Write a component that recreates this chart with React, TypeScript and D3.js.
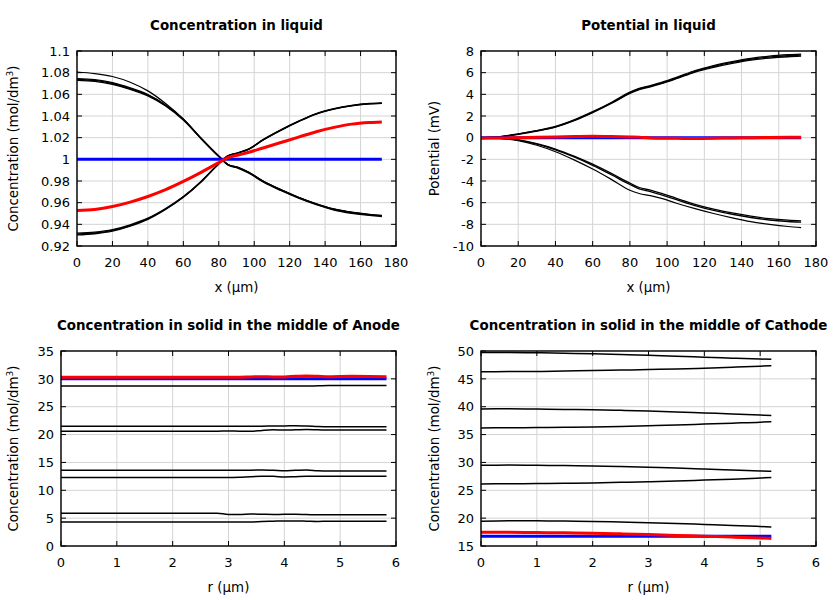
import React from "react";
import * as d3 from "d3";

// ---------- Panel 1: Concentration in liquid ----------
const xLiq = [0, 10, 20, 30, 40, 50, 60, 70, 80, 85, 91, 97, 105, 115, 125, 135, 145, 155, 165, 172];
const liqDescThin = [1.0806, 1.0792, 1.0765, 1.0712, 1.0632, 1.0515, 1.0372, 1.0195, 1.003, 0.9955, 0.9925, 0.988, 0.98, 0.972, 0.965, 0.959, 0.954, 0.951, 0.949, 0.948];
const liqDescA = [1.0745, 1.0736, 1.0708, 1.066, 1.0598, 1.0502, 1.037, 1.0195, 1.003, 0.9955, 0.9925, 0.988, 0.98, 0.972, 0.965, 0.959, 0.9542, 0.9512, 0.9492, 0.9482];
const liqDescB = [1.0737, 1.0728, 1.07, 1.0653, 1.0592, 1.0498, 1.0367, 1.0193, 1.0028, 0.9952, 0.9921, 0.9876, 0.9796, 0.9716, 0.9646, 0.9586, 0.9537, 0.9507, 0.9487, 0.9477];
const liqDescC = [1.0729, 1.072, 1.0692, 1.0646, 1.0586, 1.0493, 1.0363, 1.019, 1.0025, 0.9948, 0.9917, 0.9872, 0.9792, 0.9712, 0.9642, 0.9582, 0.9532, 0.9502, 0.9482, 0.9472];
const liqAscA = [0.9302, 0.9313, 0.9337, 0.9383, 0.9446, 0.9537, 0.9649, 0.979, 0.9957, 1.0028, 1.0058, 1.0093, 1.0178, 1.0268, 1.0348, 1.0418, 1.0463, 1.0493, 1.0511, 1.0516];
const liqAscB = [0.931, 0.932, 0.9344, 0.9389, 0.9451, 0.9541, 0.9652, 0.9793, 0.9959, 1.003, 1.006, 1.0095, 1.018, 1.027, 1.035, 1.042, 1.0465, 1.0495, 1.0513, 1.0519];
const liqAscC = [0.9318, 0.9328, 0.9351, 0.9396, 0.9457, 0.9546, 0.9656, 0.9796, 0.9961, 1.0032, 1.0062, 1.0097, 1.0182, 1.0272, 1.0352, 1.0423, 1.0468, 1.0498, 1.0516, 1.0522];
const liqRed = [0.9527, 0.9537, 0.9564, 0.9605, 0.9657, 0.972, 0.9796, 0.988, 0.997, 1.0015, 1.004, 1.0065, 1.0105, 1.0155, 1.0205, 1.0255, 1.0295, 1.0325, 1.034, 1.0345];
const liqBlue = [1, 1, 1, 1, 1, 1, 1, 1, 1, 1, 1, 1, 1, 1, 1, 1, 1, 1, 1, 1];

// ---------- Panel 2: Potential in liquid ----------
const potUpA = [0, 0.09, 0.35, 0.66, 1.04, 1.64, 2.4, 3.25, 4.2, 4.56, 4.81, 5.1, 5.56, 6.2, 6.66, 7.02, 7.32, 7.53, 7.66, 7.72];
const potUpB = [0, 0.08, 0.33, 0.64, 1.0, 1.6, 2.35, 3.2, 4.14, 4.5, 4.75, 5.04, 5.5, 6.13, 6.58, 6.94, 7.24, 7.44, 7.56, 7.62];
const potUpC = [0, 0.07, 0.31, 0.61, 0.97, 1.56, 2.3, 3.15, 4.08, 4.44, 4.69, 4.98, 5.44, 6.06, 6.5, 6.86, 7.16, 7.35, 7.47, 7.52];
const potLowA = [0, -0.05, -0.2, -0.55, -1.05, -1.7, -2.45, -3.3, -4.2, -4.6, -4.85, -5.15, -5.6, -6.15, -6.6, -6.95, -7.25, -7.48, -7.62, -7.68];
const potLowB = [0, -0.06, -0.23, -0.6, -1.12, -1.78, -2.55, -3.42, -4.32, -4.72, -4.97, -5.27, -5.72, -6.27, -6.72, -7.07, -7.37, -7.6, -7.74, -7.8];
const potLowThin = [0, -0.07, -0.28, -0.7, -1.3, -2.05, -2.9, -3.85, -4.85, -5.15, -5.35, -5.6, -6.05, -6.55, -7.0, -7.4, -7.75, -8.0, -8.2, -8.3];
const potRed = [-0.05, -0.03, 0.0, 0.03, 0.06, 0.1, 0.13, 0.1, 0.07, 0.05, -0.02, -0.05, -0.06, -0.08, -0.06, -0.02, 0.0, 0.02, 0.03, 0.03];
const potBlue = [0, 0, 0, 0, 0, 0, 0, 0, 0, 0, 0, 0, 0, 0, 0, 0, 0, 0, 0, 0];

// ---------- Panel 3: Anode solid ----------
const rAnode = [0, 1, 2, 2.8, 3.0, 3.2, 3.4, 3.6, 3.8, 4.0, 4.2, 4.4, 4.6, 4.8, 5.2, 5.83];
const an1 = [28.7, 28.7, 28.7, 28.7, 28.7, 28.7, 28.7, 28.7, 28.7, 28.7, 28.7, 28.7, 28.75, 28.8, 28.8, 28.8];
const an2 = [21.5, 21.5, 21.5, 21.5, 21.5, 21.5, 21.5, 21.5, 21.55, 21.55, 21.6, 21.55, 21.45, 21.4, 21.4, 21.4];
const an3 = [20.6, 20.6, 20.6, 20.6, 20.65, 20.6, 20.6, 20.75, 20.85, 20.8, 20.85, 20.9, 20.85, 20.8, 20.8, 20.8];
const an4 = [13.6, 13.6, 13.6, 13.6, 13.6, 13.6, 13.6, 13.65, 13.6, 13.5, 13.6, 13.65, 13.5, 13.45, 13.45, 13.45];
const an5 = [12.3, 12.3, 12.3, 12.3, 12.3, 12.35, 12.45, 12.5, 12.5, 12.4, 12.45, 12.5, 12.5, 12.5, 12.5, 12.5];
const an6 = [5.9, 5.9, 5.9, 5.9, 5.65, 5.65, 5.75, 5.7, 5.65, 5.7, 5.7, 5.65, 5.6, 5.6, 5.6, 5.6];
const an7 = [4.3, 4.3, 4.3, 4.3, 4.3, 4.3, 4.3, 4.4, 4.45, 4.5, 4.5, 4.45, 4.4, 4.45, 4.45, 4.45];
const anRed = [30.3, 30.3, 30.3, 30.3, 30.3, 30.3, 30.35, 30.4, 30.35, 30.35, 30.45, 30.5, 30.45, 30.4, 30.45, 30.4];
const anBlue = [30, 30, 30, 30, 30, 30, 30, 30, 30, 30, 30, 30, 30, 30, 30, 30];

// ---------- Panel 4: Cathode solid ----------
const rCathode = [0, 0.5, 1, 1.5, 2, 2.5, 3, 3.5, 4, 4.5, 5, 5.2];
const ca1 = [49.75, 49.72, 49.68, 49.6, 49.5, 49.38, 49.22, 49.08, 48.9, 48.72, 48.55, 48.5];
const ca2 = [46.28, 46.3, 46.33, 46.4, 46.48, 46.57, 46.67, 46.78, 46.92, 47.08, 47.28, 47.38];
const ca3 = [39.6, 39.62, 39.58, 39.52, 39.45, 39.35, 39.22, 39.06, 38.88, 38.7, 38.5, 38.42];
const ca4 = [36.2, 36.22, 36.25, 36.3, 36.38, 36.46, 36.58, 36.72, 36.88, 37.05, 37.22, 37.32];
const ca5 = [29.5, 29.52, 29.48, 29.43, 29.37, 29.27, 29.13, 28.98, 28.82, 28.64, 28.47, 28.4];
const ca6 = [26.15, 26.18, 26.2, 26.25, 26.33, 26.42, 26.53, 26.67, 26.83, 27.0, 27.2, 27.28];
const ca7 = [19.45, 19.55, 19.52, 19.47, 19.4, 19.3, 19.18, 19.03, 18.87, 18.7, 18.5, 18.42];
const caRed = [17.48, 17.46, 17.42, 17.36, 17.28, 17.18, 17.05, 16.9, 16.75, 16.6, 16.43, 16.36];
const caBlue = [16.75, 16.75, 16.75, 16.75, 16.75, 16.75, 16.75, 16.75, 16.75, 16.75, 16.75, 16.75];

// ---------- Ticks ----------
const ticksX180 = [0, 20, 40, 60, 80, 100, 120, 140, 160, 180];
const ticksX6 = [0, 1, 2, 3, 4, 5, 6];
const ticksConcLiq = [0.92, 0.94, 0.96, 0.98, 1, 1.02, 1.04, 1.06, 1.08, 1.1];
const ticksPot = [-10, -8, -6, -4, -2, 0, 2, 4, 6, 8];
const ticksAnode = [0, 5, 10, 15, 20, 25, 30, 35];
const ticksCathode = [15, 20, 25, 30, 35, 40, 45, 50];

const FONT = "'DejaVu Sans', sans-serif";

type Series = { y: number[]; color: string; width: number };

type PanelProps = {
  left: number; right: number; top: number; bottom: number;
  xDomain: [number, number]; yDomain: [number, number];
  xTicks: number[]; yTicks: number[];
  xs: number[]; series: Series[];
  title: string; xLabel: string; yLabel: React.ReactNode; yLabelX: number;
  clipId: string;
};

function fmt(v: number) {
  return String(+v.toFixed(4));
}

function Panel(p: PanelProps) {
  const x = d3.scaleLinear().domain(p.xDomain).range([p.left, p.right]);
  const y = d3.scaleLinear().domain(p.yDomain).range([p.bottom, p.top]);
  const cx = (p.left + p.right) / 2;
  const cy = (p.top + p.bottom) / 2;
  const tl = 5;
  return (
    <g>
      <defs>
        <clipPath id={p.clipId}>
          <rect x={p.left} y={p.top} width={p.right - p.left} height={p.bottom - p.top} />
        </clipPath>
      </defs>
      {p.xTicks.map((t) => (
        <line key={"gx" + t} x1={x(t)} x2={x(t)} y1={p.top} y2={p.bottom} stroke="#d4d4d4" strokeWidth={1} />
      ))}
      {p.yTicks.map((t) => (
        <line key={"gy" + t} x1={p.left} x2={p.right} y1={y(t)} y2={y(t)} stroke="#d4d4d4" strokeWidth={1} />
      ))}
      {p.xTicks.map((t) => (
        <g key={"tx" + t}>
          <line x1={x(t)} x2={x(t)} y1={p.bottom} y2={p.bottom - tl} stroke="#000" strokeWidth={1} />
          <line x1={x(t)} x2={x(t)} y1={p.top} y2={p.top + tl} stroke="#000" strokeWidth={1} />
          <text x={x(t)} y={p.bottom + 21} textAnchor="middle" fontSize={13} fontFamily={FONT}>{fmt(t)}</text>
        </g>
      ))}
      {p.yTicks.map((t) => (
        <g key={"ty" + t}>
          <line x1={p.left} x2={p.left + tl} y1={y(t)} y2={y(t)} stroke="#000" strokeWidth={1} />
          <line x1={p.right} x2={p.right - tl} y1={y(t)} y2={y(t)} stroke="#000" strokeWidth={1} />
          <text x={p.left - 7} y={y(t)} dy="0.36em" textAnchor="end" fontSize={13} fontFamily={FONT}>{fmt(t)}</text>
        </g>
      ))}
      <g clipPath={`url(#${p.clipId})`}>
        {p.series.map((s, i) => {
          const line = d3
            .line<number>()
            .x((_, j) => x(p.xs[j]))
            .y((v) => y(v))
            .curve(d3.curveMonotoneX);
          return (
            <path key={i} d={line(s.y) || ""} fill="none" stroke={s.color} strokeWidth={s.width} strokeLinejoin="round" />
          );
        })}
      </g>
      <rect x={p.left} y={p.top} width={p.right - p.left} height={p.bottom - p.top} fill="none" stroke="#000" strokeWidth={1.4} />
      <text x={cx} y={p.top - 21} textAnchor="middle" fontSize={13.4} fontWeight="bold" fontFamily={FONT}>{p.title}</text>
      <text x={cx} y={p.bottom + 46} textAnchor="middle" fontSize={13.4} fontFamily={FONT}>{p.xLabel}</text>
      <text transform={`translate(${p.yLabelX},${cy}) rotate(-90)`} textAnchor="middle" fontSize={13.4} fontFamily={FONT}>{p.yLabel}</text>
    </g>
  );
}

const concLabel = (
  <>
    Concentration (mol/dm<tspan baselineShift="super" fontSize={9}>3</tspan>)
  </>
);

const BLK = "#000";
const RED = "#ff0000";
const BLU = "#0000ff";

export default function App() {
  return (
    <svg width={840} height={600} style={{ position: "absolute", left: 0, top: 0, background: "#fff" }}>
      <rect x={0} y={0} width={840} height={600} fill="#fff" />
      <Panel
        left={77} right={396} top={51} bottom={246}
        xDomain={[0, 180]} yDomain={[0.92, 1.1]}
        xTicks={ticksX180} yTicks={ticksConcLiq}
        xs={xLiq}
        series={[
          { y: liqDescThin, color: BLK, width: 1.2 },
          { y: liqDescA, color: BLK, width: 1.3 },
          { y: liqDescB, color: BLK, width: 1.3 },
          { y: liqDescC, color: BLK, width: 1.3 },
          { y: liqAscA, color: BLK, width: 1.3 },
          { y: liqAscB, color: BLK, width: 1.3 },
          { y: liqAscC, color: BLK, width: 1.3 },
          { y: liqBlue, color: BLU, width: 3 },
          { y: liqRed, color: RED, width: 3 },
        ]}
        title="Concentration in liquid" xLabel="x (µm)" yLabel={concLabel} yLabelX={18}
        clipId="c1"
      />
      <Panel
        left={481} right={816} top={51} bottom={246}
        xDomain={[0, 180]} yDomain={[-10, 8]}
        xTicks={ticksX180} yTicks={ticksPot}
        xs={xLiq}
        series={[
          { y: potUpA, color: BLK, width: 1.3 },
          { y: potUpB, color: BLK, width: 1.3 },
          { y: potUpC, color: BLK, width: 1.3 },
          { y: potLowA, color: BLK, width: 1.3 },
          { y: potLowB, color: BLK, width: 1.3 },
          { y: potLowThin, color: BLK, width: 1.2 },
          { y: potBlue, color: BLU, width: 3 },
          { y: potRed, color: RED, width: 3 },
        ]}
        title="Potential in liquid" xLabel="x (µm)" yLabel="Potential (mV)" yLabelX={439}
        clipId="c2"
      />
      <Panel
        left={61} right={396} top={351} bottom={546}
        xDomain={[0, 6]} yDomain={[0, 35]}
        xTicks={ticksX6} yTicks={ticksAnode}
        xs={rAnode}
        series={[
          { y: an1, color: BLK, width: 1.5 },
          { y: an2, color: BLK, width: 1.5 },
          { y: an3, color: BLK, width: 1.5 },
          { y: an4, color: BLK, width: 1.5 },
          { y: an5, color: BLK, width: 1.5 },
          { y: an6, color: BLK, width: 1.5 },
          { y: an7, color: BLK, width: 1.5 },
          { y: anBlue, color: BLU, width: 3 },
          { y: anRed, color: RED, width: 3 },
        ]}
        title="Concentration in solid in the middle of Anode" xLabel="r (µm)" yLabel={concLabel} yLabelX={18}
        clipId="c3"
      />
      <Panel
        left={481} right={816} top={351} bottom={546}
        xDomain={[0, 6]} yDomain={[15, 50]}
        xTicks={ticksX6} yTicks={ticksCathode}
        xs={rCathode}
        series={[
          { y: ca1, color: BLK, width: 1.5 },
          { y: ca2, color: BLK, width: 1.5 },
          { y: ca3, color: BLK, width: 1.5 },
          { y: ca4, color: BLK, width: 1.5 },
          { y: ca5, color: BLK, width: 1.5 },
          { y: ca6, color: BLK, width: 1.5 },
          { y: ca7, color: BLK, width: 1.5 },
          { y: caBlue, color: BLU, width: 3 },
          { y: caRed, color: RED, width: 3 },
        ]}
        title="Concentration in solid in the middle of Cathode" xLabel="r (µm)" yLabel={concLabel} yLabelX={439}
        clipId="c4"
      />
    </svg>
  );
}
